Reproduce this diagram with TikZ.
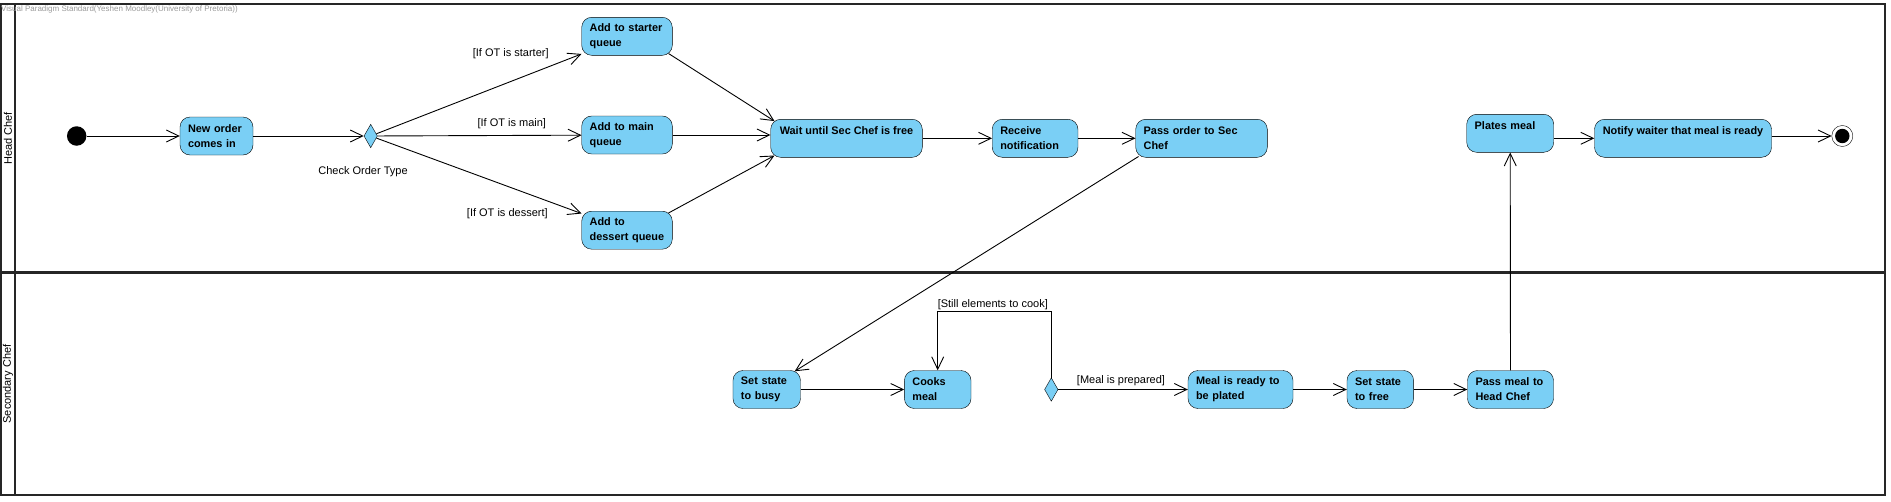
\documentclass[tikz,border=0pt]{standalone}
\usepackage{fontspec}
\setmainfont{Liberation Sans}
\usetikzlibrary{arrows.meta,positioning,shapes.geometric}
\definecolor{actblue}{RGB}{122,207,245}

\begin{document}
\begin{tikzpicture}[x=1pt,y=-1pt,>={Straight Barb[length=12.5pt,width=12pt]},
  action node/.style={rectangle,rounded corners=10pt,draw,fill=actblue,align=left,minimum height=38pt,inner xsep=8pt,inner ysep=0pt,font=\fontsize{10.9}{15}\selectfont\bfseries},
  decision node/.style={diamond,draw,fill=actblue,minimum width=13.5pt,minimum height=23.5pt,inner sep=0pt},
  start node/.style={circle,fill=black,minimum size=19.5pt,inner sep=0pt},
  end node/.style={circle,draw,fill=white,minimum size=21pt,inner sep=0pt},
  guard node/.style={font=\fontsize{11}{13}\selectfont},
  lane/.style={draw=black!85,line width=2.4pt},
  trans/.style={->,line width=0.9pt}]

  \useasboundingbox (0,0) rectangle (1891,501);

  % swimlanes
  \draw[lane] (1,4) rectangle (1885,495);
  \draw[lane] (15,4) -- (15,495);
  \draw[lane] (1,272.5) -- (1885,272.5);
  \node[guard node,rotate=90] (hc) at (8,138.5) {Head Chef};
  \node[guard node,rotate=90] (sc) at (8,384) {Secondary Chef};
  \node[anchor=base west,text=black!40,font=\fontsize{8}{9}\selectfont,inner sep=0pt] (vp) at (1,11) {Visual Paradigm Standard(Yeshen Moodley(University of Pretoria))};

  % head chef
  \node[start node]    (1) at (76.7,136) {};
  \node[action node,text width=57pt]    (2) at (216.5,136) {New order\\comes in};
  \node[decision node] (3) at (370.7,136) {};
  \node[guard node]    (3l) at (363,171.5) {Check Order Type};
  \node[action node,text width=74.6pt]  (5) at (627,135) {Add to main\\queue};
  \node[action node,text width=74.6pt]  (4) [node distance=98.7pt,above of=5] {Add to starter\\queue};
  \node[action node,text width=74.6pt]  (6) [node distance=95.2pt,below of=5] {Add to\\dessert queue};
  \node[action node,minimum width=151.6pt] (7) at (846.5,138.3) {Wait until Sec Chef is free\\\mbox{}};
  \node[action node,text width=69.7pt]  (8) [node distance=188.6pt,right of=7] {Receive\\notification};
  \node[action node,text width=115.6pt] (9) [node distance=166.4pt,right of=8] {Pass order to Sec\\Chef};
  \node[action node,text width=71pt]    (10) at (1510.2,133.3) {Plates meal\\\mbox{}};
  \node[action node,minimum width=177pt] (11) at (1683,138.3) {Notify waiter that meal is ready\\\mbox{}};
  \node[end node]      (12) at (1842.3,136) {};
  \fill (12.center) circle (7.2pt);

  % secondary chef
  \node[action node,text width=51.5pt]  (13) at (766.7,389.5) {Set state\\to busy};
  \node[action node,text width=50.6pt]  (14) [node distance=171pt,right of=13] {Cooks\\meal};
  \node[decision node] (15) at (1051.3,389.5) {};
  \node[action node,text width=89pt]    (16) at (1240.5,389.5) {Meal is ready to\\be plated};
  \node[action node,text width=50.6pt]  (17) [node distance=139.8pt,right of=16] {Set state\\to free};
  \node[action node,text width=70pt]    (18) [node distance=130.2pt,right of=17] {Pass meal to\\Head Chef};

  % guards
  \node[guard node] (g1) at (510.7,54) {[If OT is starter]};
  \node[guard node] (g2) at (511.8,123.3) {[If OT is main]};
  \node[guard node] (g3) at (507.3,214) {[If OT is dessert]};
  \node[guard node] (g4) at (992.8,304.3) {[Still elements to cook]};
  \node[guard node] (g5) at (1121,380.7) {[Meal is prepared]};

  \path[trans]
    (1) edge (2)
    (2) edge (3)
    (3) edge (4)
        edge (5)
        edge (6)
    ([xshift=-4pt,yshift=2pt]4.south east) edge ([xshift=4pt,yshift=-2pt]7.north west)
    (5) edge (5 -| 7.west)
    ([xshift=-4pt,yshift=-2pt]6.north east) edge ([xshift=4pt,yshift=2pt]7.south west)
    (7) edge (8)
    (8) edge (9)
    ([xshift=3pt,yshift=1pt]9.south west) edge ([xshift=-6pt,yshift=-1pt]13.north east)
    (13) edge (14)
    (15) edge (16)
    (16) edge (17)
    (17) edge (18)
    (18) edge (10)
    (10.east |- 11) edge (11)
    (11.east |- 12) edge (12);
  \draw[trans] (15.north) |- ([yshift=58.4pt]14.north) -- (14.north);
\end{tikzpicture}
\end{document}
